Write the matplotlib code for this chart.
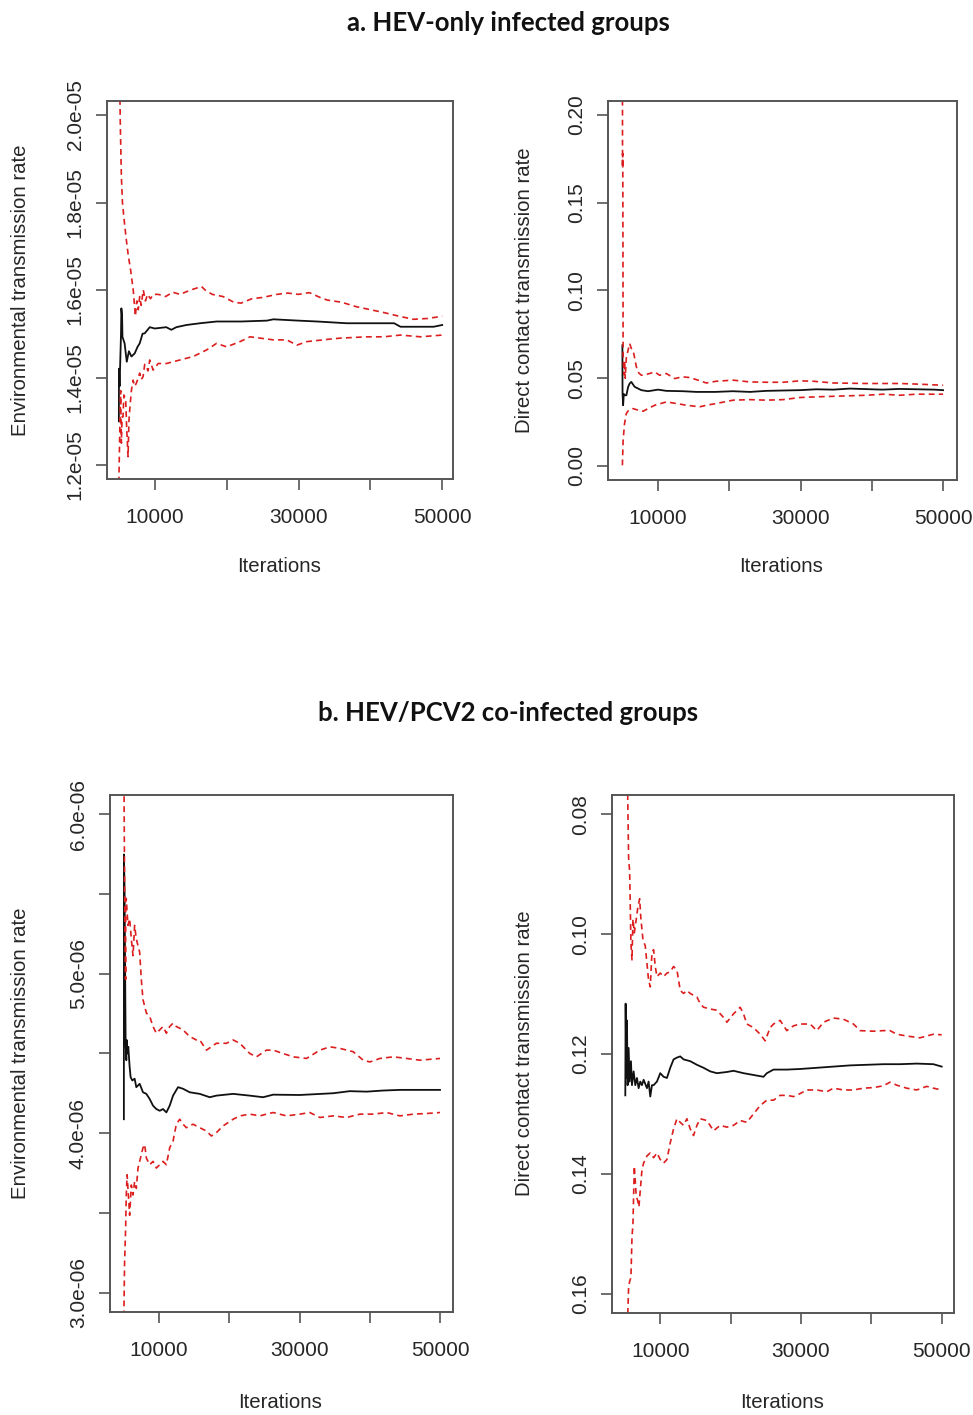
import numpy as np
import matplotlib
matplotlib.use("Agg")
import matplotlib.pyplot as plt

#%%
# values (iterations vs running quantiles)

# a. HEV-only, environmental transmission rate (units of 1e-5)
ENV_A_X_HI = [5000, 5100, 5200, 5350, 5500, 5800, 6000, 6300, 6600, 7000, 7300, 7500, 7700, 7900, 8100, 8400, 8700, 9000, 9400, 9800,
              10500, 11500, 12500, 13500, 15000, 16500, 17000, 18000, 19500, 21000, 22000, 23500, 25000, 27000, 28500, 30000,
              31500, 33000, 34000, 36000, 38000, 40000, 42000, 44000, 46000, 48000, 50000]
ENV_A_HI = [2.30, 2.10, 1.98, 1.86, 1.80, 1.75, 1.72, 1.68, 1.65, 1.60, 1.54, 1.575, 1.555, 1.585, 1.565, 1.60, 1.575, 1.59, 1.58, 1.59,
            1.59, 1.585, 1.595, 1.59, 1.60, 1.608, 1.60, 1.59, 1.585, 1.572, 1.57, 1.58, 1.583, 1.59, 1.593, 1.59,
            1.594, 1.583, 1.577, 1.572, 1.562, 1.555, 1.548, 1.540, 1.533, 1.535, 1.540]
ENV_A_X_MID = [5000, 5020, 5100, 5300, 5350, 5450, 5500, 5800, 6100, 6400, 6750, 7200, 7600, 7900, 8300, 8600, 9300, 10000, 11600, 12300,
               13000, 14400, 16300, 18600, 22000, 25600, 26500, 30000, 32600, 36700, 40000, 43300, 44200, 48800, 50000]
ENV_A_MID = [1.30, 1.42, 1.38, 1.50, 1.558, 1.54, 1.493, 1.478, 1.436, 1.46, 1.448, 1.455, 1.47, 1.478, 1.50, 1.501, 1.515, 1.512, 1.515, 1.509,
             1.515, 1.520, 1.524, 1.528, 1.528, 1.530, 1.533, 1.530, 1.528, 1.524, 1.524, 1.524, 1.516, 1.516, 1.520]
ENV_A_X_LO = [5000, 5150, 5250, 5350, 5450, 5580, 5700, 5950, 6100, 6280, 6400, 6510, 6750, 6980, 7200, 7440, 7700, 7900, 8100, 8370,
              8600, 8840, 9050, 9300, 9770, 10470, 11630, 13490, 15350, 17210, 18600, 20000, 21860, 23260, 24650, 26510, 28370,
              29770, 31160, 33950, 35810, 39530, 41860, 44190, 46980, 50000]
ENV_A_LO = [1.16, 1.30, 1.37, 1.25, 1.31, 1.31, 1.36, 1.349, 1.28, 1.219, 1.30, 1.326, 1.371, 1.394, 1.38, 1.387, 1.40, 1.41, 1.395, 1.402,
            1.43, 1.425, 1.415, 1.44, 1.417, 1.432, 1.432, 1.440, 1.448, 1.463, 1.478, 1.470, 1.482, 1.493, 1.490, 1.486, 1.486,
            1.474, 1.482, 1.487, 1.490, 1.493, 1.493, 1.497, 1.493, 1.497]

# a. HEV-only, direct contact transmission rate
DIR_A_X_HI = [5000, 5020, 5040, 5060, 5080, 5100, 5200, 5300, 5400, 5500, 5560, 5800, 6020, 6250, 6490, 6700, 6960, 7300, 7660, 8200,
              8830, 9530, 10230, 11170, 12340, 13400, 14440, 15380, 16780, 18190, 20530, 22870, 25200, 27540, 29880, 31750,
              34560, 39240, 43920, 46730, 50000]
DIR_A_HI = [0.26, 0.17, 0.178, 0.165, 0.12, 0.064, 0.052, 0.060, 0.050, 0.058, 0.062, 0.066, 0.0698, 0.067, 0.066, 0.062, 0.0565, 0.053, 0.0517, 0.052,
            0.0527, 0.0536, 0.0517, 0.0527, 0.0498, 0.0508, 0.0504, 0.0492, 0.0473, 0.0483, 0.0489, 0.0479, 0.0477, 0.0477, 0.0485, 0.0483,
            0.0473, 0.0470, 0.0470, 0.0466, 0.0460]
DIR_A_X_MID = [5000, 5020, 5100, 5200, 5350, 5560, 5800, 6020, 6250, 6720, 7660, 8600, 10000, 11170, 13500, 15400, 18000, 20500, 22900, 25200,
               29900, 32200, 34600, 36900, 41500, 43900, 48800, 50000]
DIR_A_MID = [0.0688, 0.0413, 0.0346, 0.041, 0.0403, 0.0403, 0.0450, 0.0470, 0.0479, 0.0451, 0.0432, 0.0426, 0.0435, 0.0428, 0.0426, 0.0422, 0.0422, 0.0426, 0.0422, 0.0428,
             0.0432, 0.0437, 0.0435, 0.0441, 0.0435, 0.0439, 0.0435, 0.0432]
DIR_A_X_LO = [5000, 5100, 5300, 5550, 5880, 6490, 7200, 7900, 8600, 9530, 11170, 12570, 13980, 15850, 16780, 18190, 20530, 22870, 25200, 27540,
              29880, 32220, 34560, 39240, 41580, 43920, 46260, 50000]
DIR_A_LO = [0.0004, 0.0146, 0.0241, 0.0299, 0.0318, 0.0327, 0.0318, 0.0312, 0.0327, 0.0346, 0.0365, 0.0356, 0.0346, 0.0337, 0.0346, 0.0356, 0.0375, 0.0378, 0.0375, 0.0378,
            0.0390, 0.0394, 0.0397, 0.0403, 0.0409, 0.0403, 0.0409, 0.0409]

# b. HEV/PCV2, environmental transmission rate (units of 1e-6)
ENV_B_X_HI = [5000, 5110, 5250, 5260, 5340, 5580, 5820, 6060, 6300, 6530, 6770, 7010, 7250, 7480, 7720, 8200, 8670, 9150, 9620, 10100,
              10570, 11050, 11520, 12000, 12470, 13420, 14370, 15320, 15800, 16750, 18170, 19600, 20550, 21500, 22920, 23870,
              25300, 26250, 27670, 29100, 31000, 32900, 34320, 35750, 37650, 39070, 40020, 41450, 43350, 45250, 47150, 50000]
ENV_B_HI = [6.30, 5.514, 4.965, 5.45, 5.472, 5.303, 5.345, 5.218, 5.113, 5.303, 5.218, 5.176, 5.134, 4.965, 4.838, 4.754, 4.733, 4.669, 4.627, 4.648,
            4.669, 4.627, 4.669, 4.690, 4.669, 4.648, 4.606, 4.585, 4.585, 4.521, 4.564, 4.564, 4.585, 4.564, 4.500, 4.479,
            4.521, 4.521, 4.500, 4.479, 4.469, 4.521, 4.542, 4.532, 4.511, 4.458, 4.447, 4.469, 4.479, 4.469, 4.458, 4.469]
ENV_B_X_MID = [5000, 5010, 5100, 5250, 5350, 5390, 5490, 5630, 5820, 5960, 6200, 6530, 6770, 7250, 7720, 8200, 8670, 9150, 9620, 10100,
               10570, 11050, 11520, 12000, 12710, 13420, 14370, 15800, 17220, 18170, 20550, 22920, 24820, 26250, 30050, 34800,
               37170, 39550, 41920, 44300, 50000]
ENV_B_MID = [4.088, 5.747, 5.514, 4.564, 4.458, 4.585, 4.500, 4.542, 4.416, 4.352, 4.331, 4.342, 4.289, 4.310, 4.257, 4.247, 4.215, 4.173, 4.152, 4.141,
             4.152, 4.131, 4.173, 4.236, 4.289, 4.279, 4.257, 4.247, 4.226, 4.236, 4.247, 4.236, 4.226, 4.242, 4.240, 4.251,
             4.264, 4.261, 4.268, 4.272, 4.272]
ENV_B_X_LO = [5000, 5100, 5250, 5340, 5460, 5580, 5820, 6060, 6300, 6530, 6770, 7010, 7250, 7480, 7720, 7960, 8200, 8670, 9150, 9620,
              10100, 10570, 11050, 11520, 12000, 12470, 12950, 13420, 13900, 14850, 15800, 16750, 17460, 18170, 19120, 20550,
              21500, 22920, 24350, 25300, 26250, 28150, 30050, 31470, 32900, 34800, 36700, 38600, 40500, 42400, 44300, 46200,
              48100, 50000]
ENV_B_LO = [2.853, 3.190, 3.402, 3.613, 3.740, 3.655, 3.486, 3.676, 3.613, 3.697, 3.655, 3.782, 3.824, 3.866, 3.909, 3.930, 3.845, 3.803, 3.824, 3.782,
            3.803, 3.824, 3.803, 3.909, 3.951, 4.057, 4.088, 4.057, 4.035, 4.057, 4.035, 4.014, 3.983, 4.004, 4.046, 4.088,
            4.109, 4.120, 4.109, 4.120, 4.130, 4.109, 4.120, 4.130, 4.099, 4.109, 4.099, 4.120, 4.120, 4.130, 4.109, 4.120,
            4.124, 4.130]

# b. HEV/PCV2, direct contact transmission rate (axis is reversed in the picture)
DIR_B_X_HI = [5000, 5360, 5500, 5650, 5830, 5980, 6120, 6310, 6590, 6780, 7070, 7250, 7540, 7870, 8340, 8580, 8820, 9050, 9290, 9530,
              10000, 10470, 10950, 11420, 11890, 12370, 12840, 13310, 13790, 14260, 15210, 15680, 16150, 17100, 18050, 18990,
              19470, 20410, 21360, 21830, 22310, 23250, 24200, 24910, 25620, 26100, 27040, 27990, 28940, 29880, 31300, 32250,
              33200, 34620, 36040, 37460, 38400, 40300, 41720, 42660, 43610, 45030, 46920, 48820, 50000]
DIR_B_HI = [0.070, 0.0760, 0.0873, 0.0896, 0.1015, 0.1043, 0.0975, 0.0998, 0.0975, 0.0958, 0.0941, 0.0975, 0.1009, 0.1020, 0.1077, 0.1088, 0.1031, 0.1026, 0.1054, 0.1071,
            0.1065, 0.1071, 0.1065, 0.1063, 0.1054, 0.1060, 0.1094, 0.1099, 0.1094, 0.1099, 0.1105, 0.1116, 0.1122, 0.1125, 0.1127, 0.1139,
            0.1147, 0.1133, 0.1122, 0.1133, 0.1150, 0.1156, 0.1167, 0.1178, 0.1156, 0.1150, 0.1144, 0.1161, 0.1153, 0.1150, 0.1150, 0.1161,
            0.1147, 0.1140, 0.1142, 0.1150, 0.1161, 0.1162, 0.1161, 0.1161, 0.1167, 0.1170, 0.1173, 0.1167, 0.1168]
DIR_B_X_MID = [5030, 5077, 5172, 5266, 5361, 5503, 5645, 5834, 5976, 6213, 6450, 6686, 6923, 7160, 7396, 7633, 8107, 8343, 8580, 8817,
               9053, 9527, 10000, 10473, 10947, 11420, 11893, 12367, 12840, 13314, 14260, 15207, 16154, 17101, 18047, 19467,
               20414, 21834, 23254, 24675, 25148, 26095, 27988, 29882, 32249, 34615, 36982, 39349, 41716, 44083, 46450, 48817, 50000]
DIR_B_MID = [0.1269, 0.1116, 0.1240, 0.1144, 0.1252, 0.1190, 0.1246, 0.1212, 0.1252, 0.1229, 0.1252, 0.1240, 0.1257, 0.1246, 0.1252, 0.1243, 0.1257, 0.1246, 0.1271, 0.1252,
             0.1252, 0.1246, 0.1232, 0.1238, 0.1240, 0.1223, 0.1209, 0.1206, 0.1204, 0.1209, 0.1212, 0.1218, 0.1223, 0.1229, 0.1232, 0.1230,
             0.1228, 0.1232, 0.1235, 0.1238, 0.1232, 0.1226, 0.1226, 0.1225, 0.1223, 0.1221, 0.1219, 0.1218, 0.1217, 0.1217, 0.1216, 0.1217, 0.1221]
DIR_B_X_LO = [5000, 5360, 5500, 5650, 5830, 5980, 6120, 6210, 6310, 6590, 6780, 6970, 7160, 7400, 7630, 8110, 8580, 9050, 9530, 10000,
              10470, 10950, 11420, 11890, 12370, 12840, 13310, 13790, 14260, 14730, 15210, 15680, 16630, 17570, 18520, 19470,
              20410, 21360, 22310, 23250, 24200, 25150, 26100, 27040, 27990, 28940, 29880, 30830, 32250, 33670, 34620, 36040,
              37460, 38880, 40300, 41720, 42660, 43610, 45030, 46450, 47870, 48820, 50000]
DIR_B_LO = [0.170, 0.1641, 0.1590, 0.1579, 0.1573, 0.1506, 0.1483, 0.1438, 0.1387, 0.1438, 0.1444, 0.1455, 0.1427, 0.1393, 0.1382, 0.1370, 0.1365, 0.1373, 0.1365, 0.1376,
            0.1382, 0.1376, 0.1348, 0.1325, 0.1308, 0.1314, 0.1319, 0.1308, 0.1325, 0.1336, 0.1319, 0.1308, 0.1311, 0.1328, 0.1319, 0.1322,
            0.1319, 0.1311, 0.1314, 0.1300, 0.1286, 0.1277, 0.1277, 0.1269, 0.1269, 0.1271, 0.1266, 0.1260, 0.1260, 0.1263, 0.1257, 0.1260,
            0.1260, 0.1257, 0.1256, 0.1253, 0.1247, 0.1252, 0.1257, 0.1260, 0.1254, 0.1257, 0.1260]

# tick labels
X_TICKS = [10000, 20000, 30000, 40000, 50000]
X_TICKLABELS = ["10000", "", "30000", "", "50000"]
ENV_A_TICKS = [1.2e-5, 1.4e-5, 1.6e-5, 1.8e-5, 2.0e-5]
ENV_A_TICKLABELS = ["1.2e-05", "1.4e-05", "1.6e-05", "1.8e-05", "2.0e-05"]
DIR_A_TICKS = [0.00, 0.05, 0.10, 0.15, 0.20]
DIR_A_TICKLABELS = ["0.00", "0.05", "0.10", "0.15", "0.20"]
ENV_B_TICKS = [3.0e-6, 3.5e-6, 4.0e-6, 4.5e-6, 5.0e-6, 5.5e-6, 6.0e-6]
ENV_B_TICKLABELS = ["3.0e-06", "", "4.0e-06", "", "5.0e-06", "", "6.0e-06"]
DIR_B_TICKS = [0.08, 0.10, 0.12, 0.14, 0.16]
DIR_B_TICKLABELS = ["0.08", "0.10", "0.12", "0.14", "0.16"]

#%%
W, H = 973, 1415
plt.rcParams['font.family'] = ['Liberation Sans', 'DejaVu Sans']
fig = plt.figure(figsize=(W / 100, H / 100), dpi=100)

RED = "#dc1e1e"
TXT = "#262626"
BOX = "#555555"


def px_axes(x0, y0, x1, y1):
    # axes from pixel box (top-left origin)
    return fig.add_axes([x0 / W, 1 - y1 / H, (x1 - x0) / W, (y1 - y0) / H])


def draw_panel(ax, lines, scale, xlim, ylim, yticks, yticklabels):
    (xl, lo), (xm, mid), (xh, hi) = lines
    ax.plot(xm, np.array(mid) * scale, color="#111111", lw=1.3)
    ax.plot(xh, np.array(hi) * scale, color=RED, lw=1.2, ls=(0, (3.5, 2.5)))
    ax.plot(xl, np.array(lo) * scale, color=RED, lw=1.2, ls=(0, (3.5, 2.5)))
    ax.set_xlim(xlim)
    ax.set_ylim(ylim)
    ax.set_xticks(X_TICKS)
    ax.set_xticklabels(X_TICKLABELS)
    ax.set_yticks(yticks)
    ax.set_yticklabels(yticklabels, rotation=90, va="center")
    ax.tick_params(axis="both", direction="out", length=8, width=1.2, color=BOX,
                   labelsize=15, labelcolor=TXT)
    ax.tick_params(axis="x", pad=13)
    ax.tick_params(axis="y", pad=8)
    for s in ax.spines.values():
        s.set_color(BOX)
        s.set_linewidth(1.4)


def fig_text(x, y, s, **kw):
    fig.text(x / W, 1 - y / H, s, ha="center", va="center", **kw)


# a-left
ax = px_axes(107, 101, 453, 479)
draw_panel(ax, [(ENV_A_X_LO, ENV_A_LO), (ENV_A_X_MID, ENV_A_MID), (ENV_A_X_HI, ENV_A_HI)], 1e-5,
           (3350, 51500), (1.168e-5, 2.032e-5), ENV_A_TICKS, ENV_A_TICKLABELS)
# a-right
ax = px_axes(608, 101, 957, 480)
draw_panel(ax, [(DIR_A_X_LO, DIR_A_LO), (DIR_A_X_MID, DIR_A_MID), (DIR_A_X_HI, DIR_A_HI)], 1,
           (2980, 51950), (-0.008, 0.208), DIR_A_TICKS, DIR_A_TICKLABELS)
# b-left
ax = px_axes(110, 795, 453, 1312)
draw_panel(ax, [(ENV_B_X_LO, ENV_B_LO), (ENV_B_X_MID, ENV_B_MID), (ENV_B_X_HI, ENV_B_HI)], 1e-6,
           (3025, 51850), (2.88e-6, 6.12e-6), ENV_B_TICKS, ENV_B_TICKLABELS)
# b-right (reversed y)
ax = px_axes(612, 795, 954, 1313)
draw_panel(ax, [(DIR_B_X_LO, DIR_B_LO), (DIR_B_X_MID, DIR_B_MID), (DIR_B_X_HI, DIR_B_HI)], 1,
           (3140, 51750), (0.1632, 0.0768), DIR_B_TICKS, DIR_B_TICKLABELS)

# axis labels and titles
LAB = 14.7
fig_text(21, 290, "Environmental transmission rate", rotation=90, fontsize=LAB, color=TXT)
fig_text(524, 290, "Direct contact transmission rate", rotation=90, fontsize=LAB, color=TXT)
fig_text(21, 1053, "Environmental transmission rate", rotation=90, fontsize=LAB, color=TXT)
fig_text(524, 1053, "Direct contact transmission rate", rotation=90, fontsize=LAB, color=TXT)
fig_text(279, 567, "Iterations", fontsize=LAB, color=TXT)
fig_text(781, 567, "Iterations", fontsize=LAB, color=TXT)
fig_text(280, 1403, "Iterations", fontsize=LAB, color=TXT)
fig_text(782, 1403, "Iterations", fontsize=LAB, color=TXT)
fig_text(508, 23, "a. HEV-only infected groups", fontsize=18.5, fontweight="bold", family="Lato", color="#111111")
fig_text(508, 713, "b. HEV/PCV2 co-infected groups", fontsize=18.5, fontweight="bold", family="Lato", color="#111111")

fig.savefig("out.png", dpi=100)
